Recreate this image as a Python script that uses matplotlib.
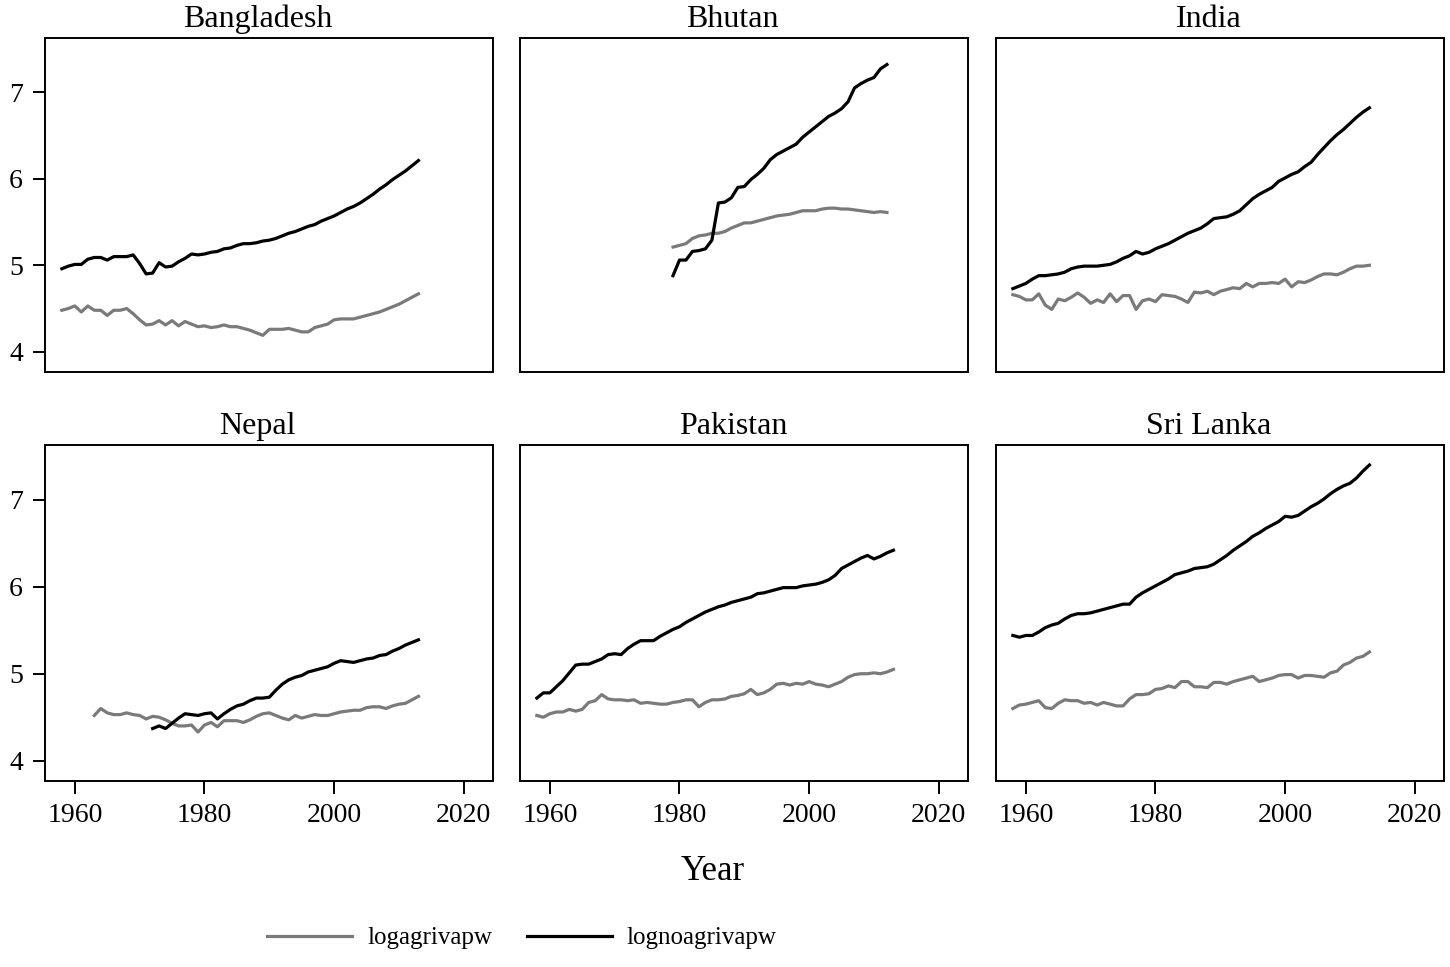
import numpy as np
import matplotlib.pyplot as plt

plt.rcParams['font.family'] = ['Liberation Serif', 'DejaVu Serif']

countries = ['Bangladesh', 'Bhutan', 'India', 'Nepal', 'Pakistan', 'Sri Lanka']

# first year of each series (last year is 2013, Bhutan 2012)
agri_start = [1958, 1979, 1958, 1963, 1958, 1958]
noagri_start = [1958, 1979, 1958, 1972, 1958, 1958]

# log agricultural value added per worker
bgd_agri = [4.48, 4.50, 4.53, 4.46, 4.53, 4.48, 4.48, 4.42, 4.48, 4.48,
            4.50, 4.44, 4.37, 4.31, 4.32, 4.36, 4.31, 4.36, 4.30, 4.35,
            4.32, 4.29, 4.30, 4.28, 4.29, 4.31, 4.29, 4.29, 4.27, 4.25,
            4.22, 4.19, 4.26, 4.26, 4.26, 4.27, 4.25, 4.23, 4.23, 4.28,
            4.30, 4.32, 4.37, 4.38, 4.38, 4.38, 4.40, 4.42, 4.44, 4.46,
            4.49, 4.52, 4.55, 4.59, 4.63, 4.67]
btn_agri = [5.21, 5.23, 5.25, 5.31, 5.34, 5.35, 5.37, 5.37, 5.39, 5.43,
            5.46, 5.49, 5.49, 5.51, 5.53, 5.55, 5.57, 5.58, 5.59, 5.61,
            5.63, 5.63, 5.63, 5.65, 5.66, 5.66, 5.65, 5.65, 5.64, 5.63,
            5.62, 5.61, 5.62, 5.61]
ind_agri = [4.66, 4.64, 4.60, 4.60, 4.67, 4.54, 4.49, 4.61, 4.59, 4.63,
            4.68, 4.63, 4.56, 4.60, 4.57, 4.67, 4.58, 4.65, 4.65, 4.49,
            4.59, 4.61, 4.58, 4.66, 4.65, 4.64, 4.61, 4.57, 4.69, 4.68,
            4.70, 4.66, 4.70, 4.72, 4.74, 4.73, 4.79, 4.75, 4.79, 4.79,
            4.80, 4.79, 4.84, 4.75, 4.81, 4.80, 4.83, 4.87, 4.90, 4.90,
            4.89, 4.92, 4.96, 4.99, 4.99, 5.00]
npl_agri = [4.52, 4.60, 4.55, 4.53, 4.53,
            4.55, 4.53, 4.52, 4.48, 4.51, 4.50, 4.47, 4.43, 4.40, 4.40,
            4.41, 4.33, 4.41, 4.44, 4.39, 4.46, 4.46, 4.46, 4.44, 4.47,
            4.51, 4.54, 4.55, 4.52, 4.49, 4.47, 4.52, 4.49, 4.51, 4.53,
            4.52, 4.52, 4.54, 4.56, 4.57, 4.58, 4.58, 4.61, 4.62, 4.62,
            4.60, 4.63, 4.65, 4.66, 4.70, 4.74]
pak_agri = [4.52, 4.50, 4.54, 4.56, 4.56, 4.59, 4.57, 4.59, 4.67, 4.69,
            4.76, 4.71, 4.70, 4.70, 4.69, 4.70, 4.66, 4.67, 4.66, 4.65,
            4.65, 4.67, 4.68, 4.70, 4.70, 4.62, 4.67, 4.70, 4.70, 4.71,
            4.74, 4.75, 4.77, 4.82, 4.76, 4.78, 4.82, 4.88, 4.89, 4.87,
            4.89, 4.88, 4.91, 4.88, 4.87, 4.85, 4.88, 4.91, 4.96, 4.99,
            5.00, 5.00, 5.01, 5.00, 5.02, 5.05]
lka_agri = [4.60, 4.64, 4.65, 4.67, 4.69, 4.61, 4.60, 4.66, 4.70, 4.69,
            4.69, 4.66, 4.67, 4.64, 4.67, 4.65, 4.63, 4.63, 4.71, 4.76,
            4.76, 4.77, 4.82, 4.83, 4.86, 4.84, 4.91, 4.91, 4.85, 4.85,
            4.84, 4.90, 4.90, 4.88, 4.91, 4.93, 4.95, 4.97, 4.91, 4.93,
            4.95, 4.98, 4.99, 4.99, 4.95, 4.98, 4.98, 4.97, 4.96, 5.01,
            5.03, 5.10, 5.13, 5.18, 5.20, 5.25]

# log non-agricultural value added per worker
bgd_noagri = [4.96, 4.99, 5.01, 5.01, 5.07, 5.09, 5.09, 5.06, 5.10, 5.10,
              5.10, 5.12, 5.02, 4.90, 4.91, 5.03, 4.98, 4.99, 5.04, 5.08,
              5.13, 5.12, 5.13, 5.15, 5.16, 5.19, 5.20, 5.23, 5.25, 5.25,
              5.26, 5.28, 5.29, 5.31, 5.34, 5.37, 5.39, 5.42, 5.45, 5.47,
              5.51, 5.54, 5.57, 5.61, 5.65, 5.68, 5.72, 5.77, 5.82, 5.88,
              5.93, 5.99, 6.04, 6.09, 6.15, 6.21]
btn_noagri = [4.88, 5.06, 5.06, 5.16, 5.17, 5.19, 5.29, 5.72, 5.73, 5.78,
              5.90, 5.91, 5.99, 6.05, 6.12, 6.22, 6.28, 6.32, 6.36, 6.40,
              6.48, 6.54, 6.60, 6.66, 6.72, 6.76, 6.81, 6.89, 7.05, 7.10,
              7.14, 7.17, 7.27, 7.32]
ind_noagri = [4.73, 4.76, 4.79, 4.84, 4.88, 4.88, 4.89, 4.90, 4.92, 4.96,
              4.98, 4.99, 4.99, 4.99, 5.00, 5.01, 5.04, 5.08, 5.11, 5.16,
              5.13, 5.15, 5.19, 5.22, 5.25, 5.29, 5.33, 5.37, 5.40, 5.43,
              5.48, 5.54, 5.55, 5.56, 5.59, 5.63, 5.70, 5.77, 5.82, 5.86,
              5.90, 5.97, 6.01, 6.05, 6.08, 6.14, 6.19, 6.28, 6.36, 6.44,
              6.51, 6.57, 6.64, 6.71, 6.77, 6.82]
npl_noagri = [4.37, 4.40, 4.37, 4.43, 4.49, 4.54,
              4.53, 4.52, 4.54, 4.55, 4.48, 4.54, 4.59, 4.63, 4.65, 4.69,
              4.72, 4.72, 4.73, 4.81, 4.88, 4.93, 4.96, 4.98, 5.02, 5.04,
              5.06, 5.08, 5.12, 5.15, 5.14, 5.13, 5.15, 5.17, 5.18, 5.21,
              5.22, 5.26, 5.29, 5.33, 5.36, 5.39]
pak_noagri = [4.72, 4.78, 4.78, 4.85, 4.92, 5.01, 5.10, 5.11, 5.11, 5.14,
              5.17, 5.22, 5.23, 5.22, 5.29, 5.34, 5.38, 5.38, 5.38, 5.43,
              5.47, 5.51, 5.54, 5.59, 5.63, 5.67, 5.71, 5.74, 5.77, 5.79,
              5.82, 5.84, 5.86, 5.88, 5.92, 5.93, 5.95, 5.97, 5.99, 5.99,
              5.99, 6.01, 6.02, 6.03, 6.05, 6.08, 6.13, 6.21, 6.25, 6.29,
              6.33, 6.36, 6.32, 6.35, 6.39, 6.42]
lka_noagri = [5.44, 5.42, 5.44, 5.44, 5.48, 5.53, 5.56, 5.58, 5.63, 5.67,
              5.69, 5.69, 5.70, 5.72, 5.74, 5.76, 5.78, 5.80, 5.80, 5.88,
              5.93, 5.97, 6.01, 6.05, 6.09, 6.14, 6.16, 6.18, 6.21, 6.22,
              6.23, 6.26, 6.31, 6.36, 6.42, 6.47, 6.52, 6.58, 6.62, 6.67,
              6.71, 6.75, 6.81, 6.80, 6.82, 6.87, 6.92, 6.96, 7.01, 7.07,
              7.12, 7.16, 7.19, 7.25, 7.33, 7.40]

agri = [bgd_agri, btn_agri, ind_agri, npl_agri, pak_agri, lka_agri]
noagri = [bgd_noagri, btn_noagri, ind_noagri, npl_noagri, pak_noagri, lka_noagri]

GRAY = '#7a7a7a'
W, H = 1450, 967

fig = plt.figure(figsize=(14.5, 9.67), dpi=100)

# panel boxes in pixels: left edges, top/bottom of each row
lefts = [45, 520, 996]
rows = [(37.7, 371.7), (445, 780.7)]
pw = 448

for i, name in enumerate(countries):
    r, c = divmod(i, 3)
    top, bot = rows[r]
    ax = fig.add_axes([lefts[c] / W, 1 - bot / H, pw / W, (bot - top) / H])

    ya = np.arange(agri_start[i], agri_start[i] + len(agri[i]))
    yn = np.arange(noagri_start[i], noagri_start[i] + len(noagri[i]))
    ax.plot(ya, agri[i], color=GRAY, lw=2.3, label='logagrivapw')
    ax.plot(yn, noagri[i], color='black', lw=2.3, label='lognoagrivapw')

    ax.set_xlim(1955.4, 2024.5)
    ax.set_ylim(3.77, 7.63)
    ax.set_xticks([1960, 1980, 2000, 2020])
    ax.set_yticks([4, 5, 6, 7])
    ax.set_title(name, fontsize=23, pad=8, x=0.475)

    for s in ax.spines.values():
        s.set_linewidth(1.4)
    ax.tick_params(labelsize=20, length=9, width=1.4, pad=7)
    if c != 0:
        ax.tick_params(axis='y', left=False, labelleft=False)
    if r == 0:
        ax.tick_params(axis='x', bottom=False, labelbottom=False)

fig.text(713 / W, 1 - 872 / H, 'Year', ha='center', va='center', fontsize=25)

# legend under the panels, left of centre like the original
handles, labels = ax.get_legend_handles_labels()
fig.legend(handles, labels, loc='center left', bbox_to_anchor=(267 / W, 1 - 938 / H),
           ncol=2, frameon=False, fontsize=18, handlelength=3.4,
           handletextpad=0.6, columnspacing=1.4, borderpad=0, borderaxespad=0)

fig.savefig('out.png', dpi=100)
